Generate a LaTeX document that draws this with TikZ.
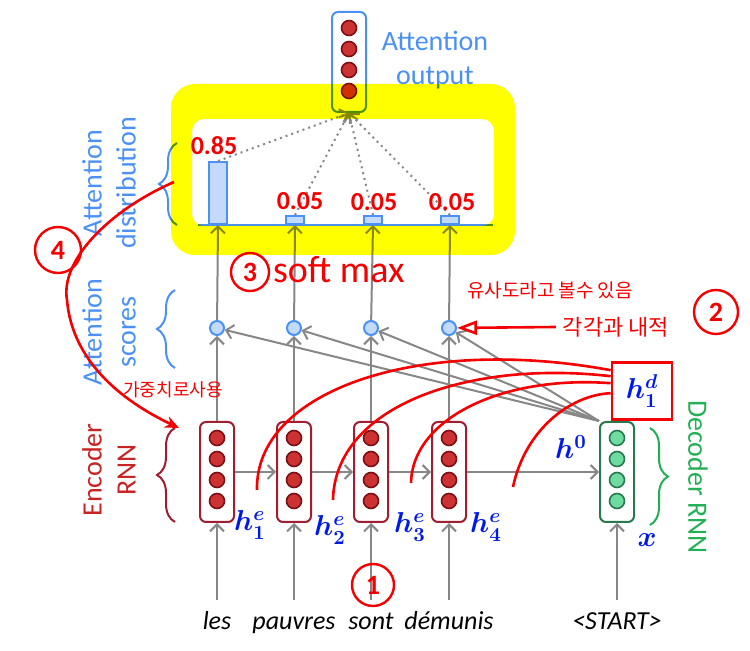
\documentclass[tikz,border=0pt]{standalone}
\usepackage{fontspec}
\setmainfont{Carlito}
\newfontfamily\korfont{Noto Sans CJK KR}
\usetikzlibrary{arrows.meta,decorations.pathreplacing,calc}
\definecolor{encred}{RGB}{160,30,50}
\definecolor{textred}{RGB}{200,35,35}
\definecolor{cellred}{RGB}{205,50,50}
\definecolor{celldark}{RGB}{125,15,20}
\definecolor{attblue}{RGB}{75,145,245}
\definecolor{barfill}{RGB}{195,218,250}
\definecolor{decgreen}{RGB}{40,120,80}
\definecolor{cellgreen}{RGB}{110,220,160}
\definecolor{labgreen}{RGB}{35,175,85}
\definecolor{flowgray}{RGB}{135,135,135}
\definecolor{inkred}{RGB}{245,0,0}
\definecolor{inkblue}{RGB}{0,25,235}
\definecolor{hlyellow}{RGB}{255,255,0}
\tikzset{
    encbox/.style={draw=encred, line width=1pt, rounded corners=3pt, minimum width=17pt, minimum height=50pt, inner sep=0pt},
    decbox/.style={encbox, draw=decgreen},
    outbox/.style={encbox, draw=attblue},
    redcell/.style={circle, draw=celldark, fill=cellred, line width=0.8pt, minimum size=7.5pt, inner sep=0pt},
    greencell/.style={redcell, draw=decgreen, fill=cellgreen},
    score/.style={circle, draw=attblue, fill=barfill, line width=1pt, minimum size=7pt, inner sep=0pt},
    bar/.style={draw=attblue, fill=barfill, line width=1pt, anchor=south, inner sep=0pt, minimum width=9pt},
    flow/.style={draw=flowgray, line width=1pt, -{Straight Barb[length=3.5pt,width=7pt]}},
    side/.style={font=\fontsize{14}{17}\selectfont, align=center},
    sidebrace/.style={decorate, decoration={brace, amplitude=9pt}, line width=1pt},
    word/.style={font=\fontsize{13}{13}\selectfont\itshape, text height=9pt, text depth=3pt, inner sep=2pt},
    ink/.style={text=inkred, font=\fontsize{13}{13}\selectfont\bfseries},
    hand/.style={text=inkblue, font=\fontsize{14}{14}\selectfont\boldmath, inner sep=1pt},
    ringed/.style={circle, draw=inkred, line width=1.2pt, text=inkred, inner sep=0pt, font=\fontsize{14}{14}\selectfont\bfseries},
    inkline/.style={draw=inkred, line width=1.3pt},
}

\begin{document}
\begin{tikzpicture}[x=0.5pt, y=-0.5pt]
    \useasboundingbox (0,0) rectangle (750,651);
    \foreach \x [count=\i] in {217,294,371,449} {
        \node[encbox] (e\i) at (\x,472) {};
        \foreach \k in {0,...,3}
            \node[redcell] at (\x,438+21*\k) {};
        \node[score] (s\i) at (\x,328) {};
    }
    \node[decbox] (d) at (617,472) {};
    \foreach \k in {0,...,3}
        \node[greencell] at (617,438+21*\k) {};
    \node[outbox] (out) at (349,62) {};
    \foreach \k in {0,...,3}
        \node[redcell] at (349,28+21*\k) {};

    \node[bar, minimum height=31pt] (b1) at (218,225) {};
    \node[bar, minimum height=4pt] (b2) at (295,225) {};
    \node[bar, minimum height=4pt] (b3) at (373,225) {};
    \node[bar, minimum height=4pt] (b4) at (450,225) {};
    \draw[attblue, line width=1pt] (198,225) -- (493,225);

    \node[word] (w1) at (217,624) {les};
    \node[word] (w2) at (294,624) {pauvres};
    \node[word] (w3) at (371,624) {sont};
    \node[word] (w4) at (449,624) {démunis};
    \node[word] (w5) at (617,624) {<START>};

    \foreach \i in {1,...,4} {
        \draw[flow, shorten <=4pt] (w\i) -- (e\i);
        \draw[flow] (e\i) -- (s\i);
        \draw[flow] (s\i) -- (b\i.south);
        \draw[flow] (d.north west) -- (s\i);
        \draw[flow, dotted] (b\i.north) -- (out.south);
    }
    \draw[flow] (e1) -- (e2);
    \draw[flow] (e2) -- (e3);
    \draw[flow] (e3) -- (e4);
    \draw[flow] (e4) -- (d);
    \draw[flow, shorten <=4pt] (w5) -- (d);

    \draw[sidebrace, attblue] (177,225) -- (177,143);
    \draw[sidebrace, attblue] (175,368) -- (175,290);
    \draw[sidebrace, encred] (175,522) -- (175,428);
    \draw[sidebrace, labgreen] (650,428) -- (650,525);

    \node[side, text=attblue, rotate=90] (dl) at (109,183) {Attention\\distribution};
    \node[side, text=attblue, rotate=90] (sl) at (109,332) {Attention\\scores};
    \node[side, text=textred, rotate=90] (el) at (109,470) {Encoder\\RNN};
    \node[side, text=labgreen, rotate=-90] (dr) at (698,477) {Decoder RNN};
    \node[side, text=attblue] (ol) at (435,60) {Attention\\output};

    \begin{scope}[blend mode=multiply]
        \fill[hlyellow, even odd rule, rounded corners=12pt] (171,84) rectangle (515,255) [rounded corners=6pt] (192,119) rectangle (494,226);
    \end{scope}

    \node[ink] (p1) at (214,146) {0.85};
    \node[ink] (p2) at (300,201) {0.05};
    \node[ink] (p3) at (374,202) {0.05};
    \node[ink] (p4) at (452,202) {0.05};

    \node[ringed, minimum size=19pt] (n3) at (250,272) {3};
    \node[ink, font=\fontsize{19}{19}\selectfont, anchor=west] (sm) at (266,270) {soft max};
    \node[ringed, minimum size=21pt] (n1) at (373,585) {1};
    \node[ringed, minimum size=22pt] (n2) at (716,312) {2};
    \node[ringed, minimum size=23pt] (n4) at (58,250) {4};

    \node[ink, font=\korfont\fontsize{9.5}{9.5}\selectfont] (k1) at (550,290) {유사도라고 볼수 있음};
    \node[ink, font=\korfont\fontsize{11}{11}\selectfont] (k2) at (616,327) {각각과 내적};
    \node[ink, font=\korfont\fontsize{9}{9}\selectfont] (k3) at (173,390) {가중치로사용};
    \draw[inkline, -{Triangle[open, length=10pt, width=7pt]}] (k2.west) -- (s4);

    \node[hand] (h1) at (250,525) {$h_1^e$};
    \node[hand] (h2) at (330,530) {$h_2^e$};
    \node[hand] (h3) at (410,527) {$h_3^e$};
    \node[hand] (h4) at (486,527) {$h_4^e$};
    \node[hand] (h0) at (571,447) {$h^0$};
    \node[hand] (x0) at (647,540) {$x$};
    \node[hand, draw=inkred, line width=1.3pt, minimum width=30pt, minimum height=28.5pt] (hd) at (642,391) {$h_1^d$};

    \coordinate (t1) at (257,490);
    \coordinate (t2) at (333,500);
    \coordinate (t3) at (411,483);
    \coordinate (t4) at (513,487);
    \draw[inkline] (t1) .. controls (255,390) and (420,335) .. ($(hd.north west)+(0,9)$);
    \draw[inkline] (t2) .. controls (335,405) and (470,360) .. ($(hd.north west)+(0,15)$);
    \draw[inkline] (t3) .. controls (412,420) and (500,375) .. ($(hd.north west)+(0,22)$);
    \draw[inkline] (t4) .. controls (525,430) and (570,395) .. ($(hd.north west)+(0,32)$);

    \coordinate (dist) at (174,182);
    \coordinate (enc) at (179,428);
    \draw[inkline, -{Stealth[length=7pt, width=6pt]}] (dist) .. controls (110,210) and (60,260) .. (67,300) .. controls (72,360) and (120,400) .. (enc);
\end{tikzpicture}
\end{document}
